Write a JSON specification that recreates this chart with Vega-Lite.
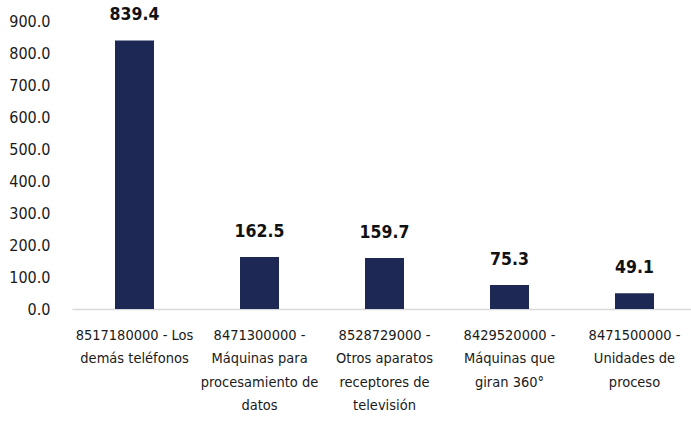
{
  "$schema": "https://vega.github.io/schema/vega-lite/v6.json",
  "autosize": "none",
  "width": 619,
  "height": 288,
  "padding": {"left": 72, "top": 21, "right": 0, "bottom": 115},
  "background": "white",
  "config": {
    "view": {"stroke": null},
    "font": "DejaVu Sans Condensed, Roboto Condensed, Roboto, sans-serif"
  },
  "data": {
    "values": [
      {"producto": "8517180000 - Los|demás teléfonos", "valor": 839.4},
      {"producto": "8471300000 -|Máquinas para|procesamiento de|datos", "valor": 162.5},
      {"producto": "8528729000 -|Otros aparatos|receptores de|televisión", "valor": 159.7},
      {"producto": "8429520000 -|Máquinas que|giran 360°", "valor": 75.3},
      {"producto": "8471500000 -|Unidades de|proceso", "valor": 49.1}
    ]
  },
  "encoding": {
    "x": {
      "field": "producto",
      "type": "nominal",
      "sort": null,
      "scale": {"range": [0, 625], "paddingInner": 0.688, "paddingOuter": 0.344},
      "axis": {
        "title": null,
        "labelAngle": 0,
        "ticks": false,
        "domainColor": "#d9d9d9",
        "domainWidth": 1.5,
        "labelExpr": "split(datum.value, '|')",
        "labelFontSize": 14.5,
        "labelColor": "#1a1a1a",
        "labelLineHeight": 23.5,
        "labelPadding": 19,
        "labelLimit": 0
      }
    },
    "y": {
      "field": "valor",
      "type": "quantitative",
      "scale": {"domain": [0, 900], "nice": false},
      "axis": {
        "title": null,
        "domain": false,
        "ticks": false,
        "grid": false,
        "values": [0, 100, 200, 300, 400, 500, 600, 700, 800, 900],
        "format": ".1f",
        "labelFontSize": 16,
        "labelColor": "#1a1a1a",
        "labelPadding": 22
      }
    }
  },
  "layer": [
    {"mark": {"type": "bar", "color": "#1d2854"}},
    {
      "mark": {"type": "text", "baseline": "middle", "dy": -25, "fontWeight": "bold", "fontSize": 17.5, "color": "#111111"},
      "encoding": {"text": {"field": "valor", "type": "quantitative", "format": ".1f"}}
    }
  ]
}
